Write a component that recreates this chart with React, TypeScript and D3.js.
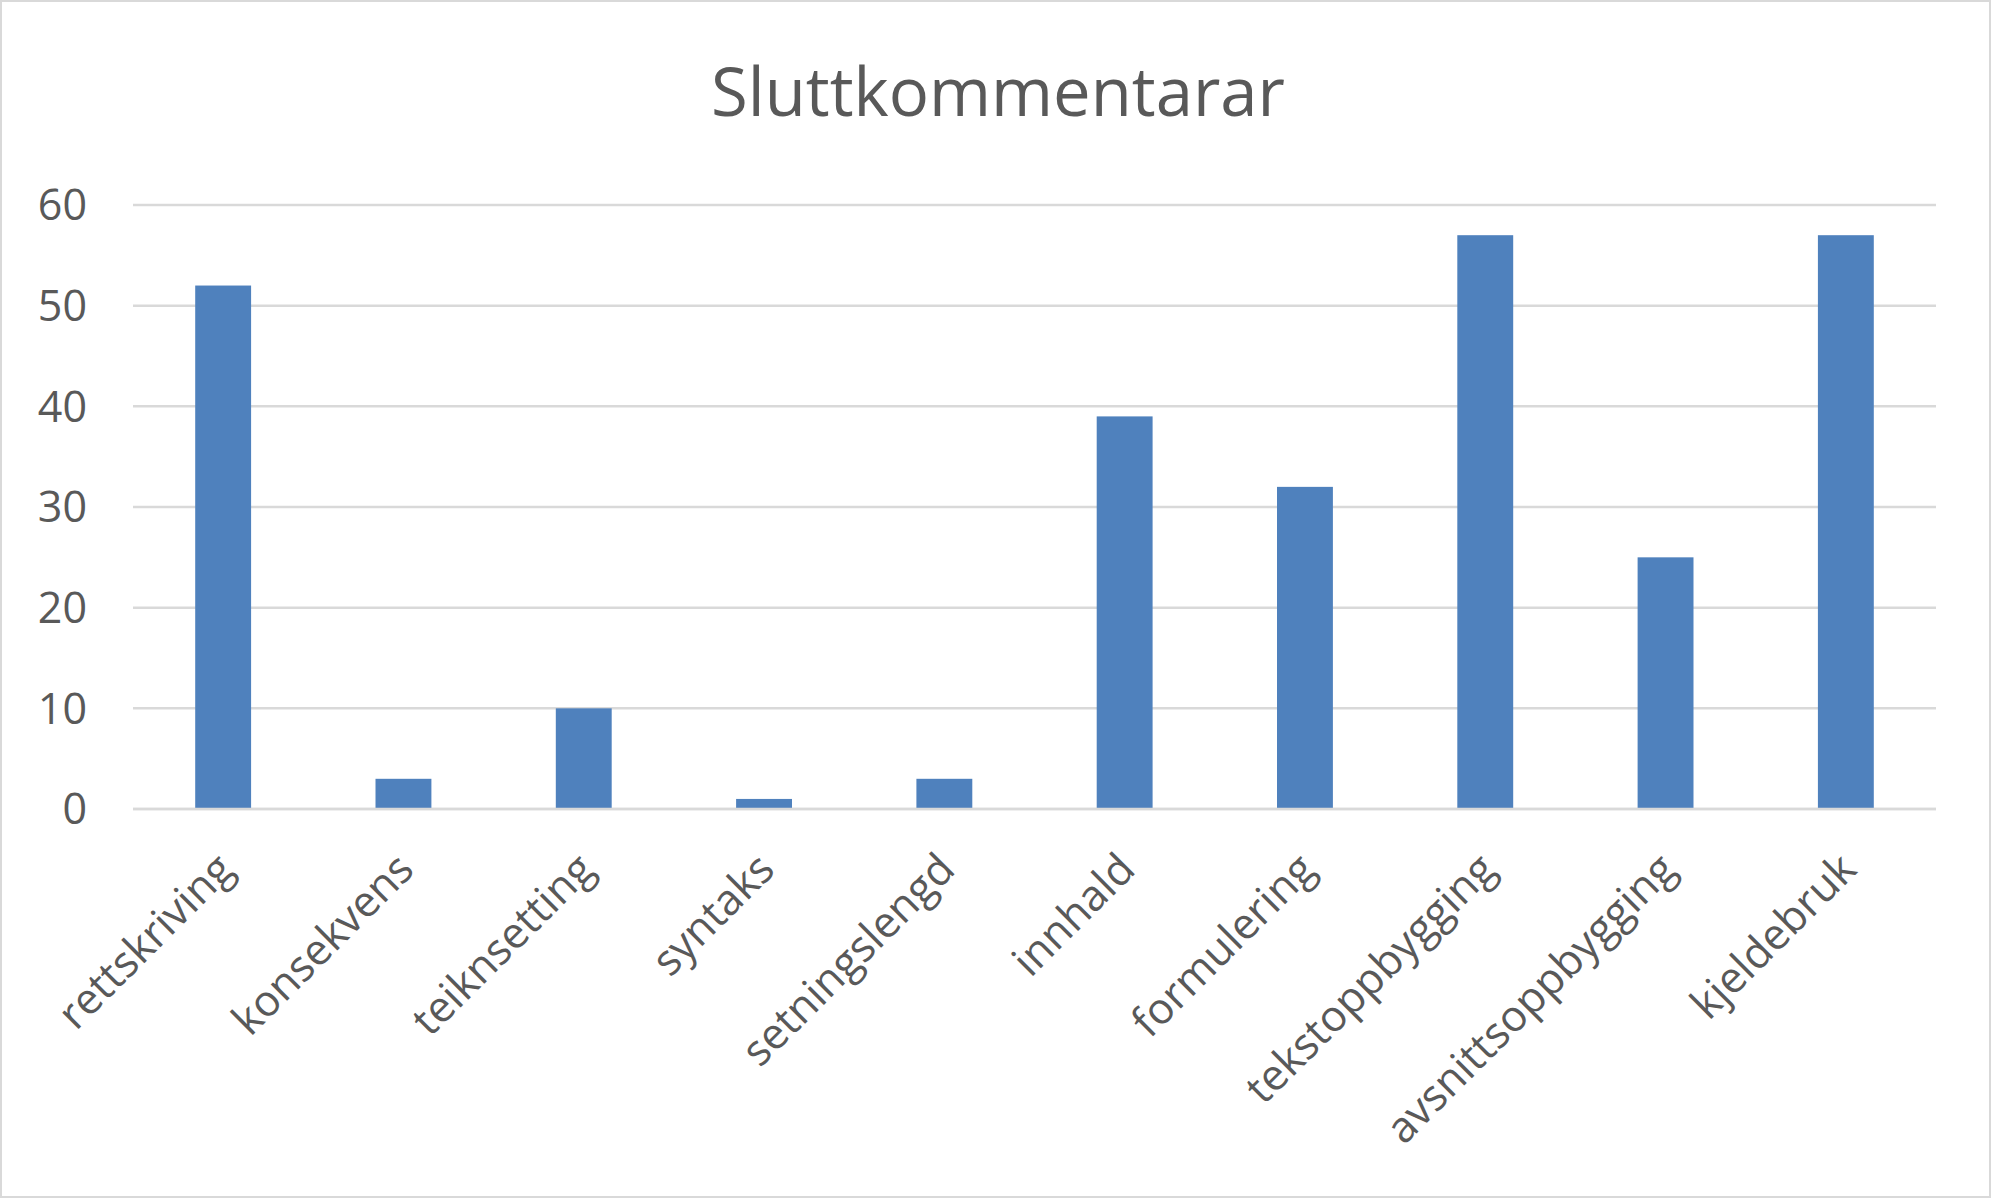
import React, { useEffect, useRef } from "react";
import * as d3 from "d3";

const title = "Sluttkommentarar";
const categories = [
  "rettskriving",
  "konsekvens",
  "teiknsetting",
  "syntaks",
  "setningslengd",
  "innhald",
  "formulering",
  "tekstoppbygging",
  "avsnittsoppbygging",
  "kjeldebruk",
];
const values = [52, 3, 10, 1, 3, 39, 32, 57, 25, 57];
const yTicks = [0, 10, 20, 30, 40, 50, 60];

const W = 1991;
const H = 1198;
const FONT = "'Open Sans', 'Liberation Sans', sans-serif";
const TEXT = "#595959";

export default function App() {
  const ref = useRef<SVGSVGElement | null>(null);

  useEffect(() => {
    document.body.style.margin = "0";
    const svg = d3.select(ref.current);
    svg.selectAll("*").remove();

    const left = 133, right = 1936, top = 205, bottom = 809;

    svg.append("rect").attr("x", 1).attr("y", 1).attr("width", W - 2).attr("height", H - 2)
      .attr("fill", "#fff").attr("stroke", "#d9d9d9").attr("stroke-width", 2);

    const x = d3.scaleBand<string>().domain(categories).range([left, right]).padding(0);
    const y = d3.scaleLinear().domain([0, 60]).range([bottom, top]);

    const grid = svg.append("g");
    yTicks.forEach((t) => {
      grid.append("line").attr("x1", left).attr("x2", right)
        .attr("y1", y(t)).attr("y2", y(t))
        .attr("stroke", "#d9d9d9").attr("stroke-width", 2.5);
      svg.append("text").attr("x", 87).attr("y", y(t)).attr("dy", "0.36em")
        .attr("text-anchor", "end").attr("font-family", FONT).attr("font-size", 43)
        .attr("fill", TEXT).text(String(t));
    });

    const bw = x.bandwidth() * 0.31;
    svg.append("g").selectAll("rect").data(categories).join("rect")
      .attr("x", (d) => (x(d) as number) + x.bandwidth() / 2 - bw / 2)
      .attr("width", bw)
      .attr("y", (_d, i) => y(values[i]))
      .attr("height", (_d, i) => bottom - y(values[i]))
      .attr("fill", "#4f81bd");

    svg.append("line").attr("x1", left).attr("x2", right).attr("y1", bottom).attr("y2", bottom)
      .attr("stroke", "#d9d9d9").attr("stroke-width", 2.5);

    svg.append("g").selectAll("text").data(categories).join("text")
      .attr("transform", (d) => `translate(${(x(d) as number) + x.bandwidth() / 2 + 2},${bottom + 52}) rotate(-45)`)
      .attr("text-anchor", "end").attr("dy", "0.35em")
      .attr("font-family", FONT).attr("font-size", 43).attr("fill", TEXT)
      .text((d) => d);

    svg.append("text").attr("x", 998).attr("y", 116).attr("text-anchor", "middle")
      .attr("font-family", FONT).attr("font-size", 67).attr("fill", TEXT).text(title);
  }, []);

  return <svg ref={ref} width={W} height={H} style={{ display: "block" }} />;
}
